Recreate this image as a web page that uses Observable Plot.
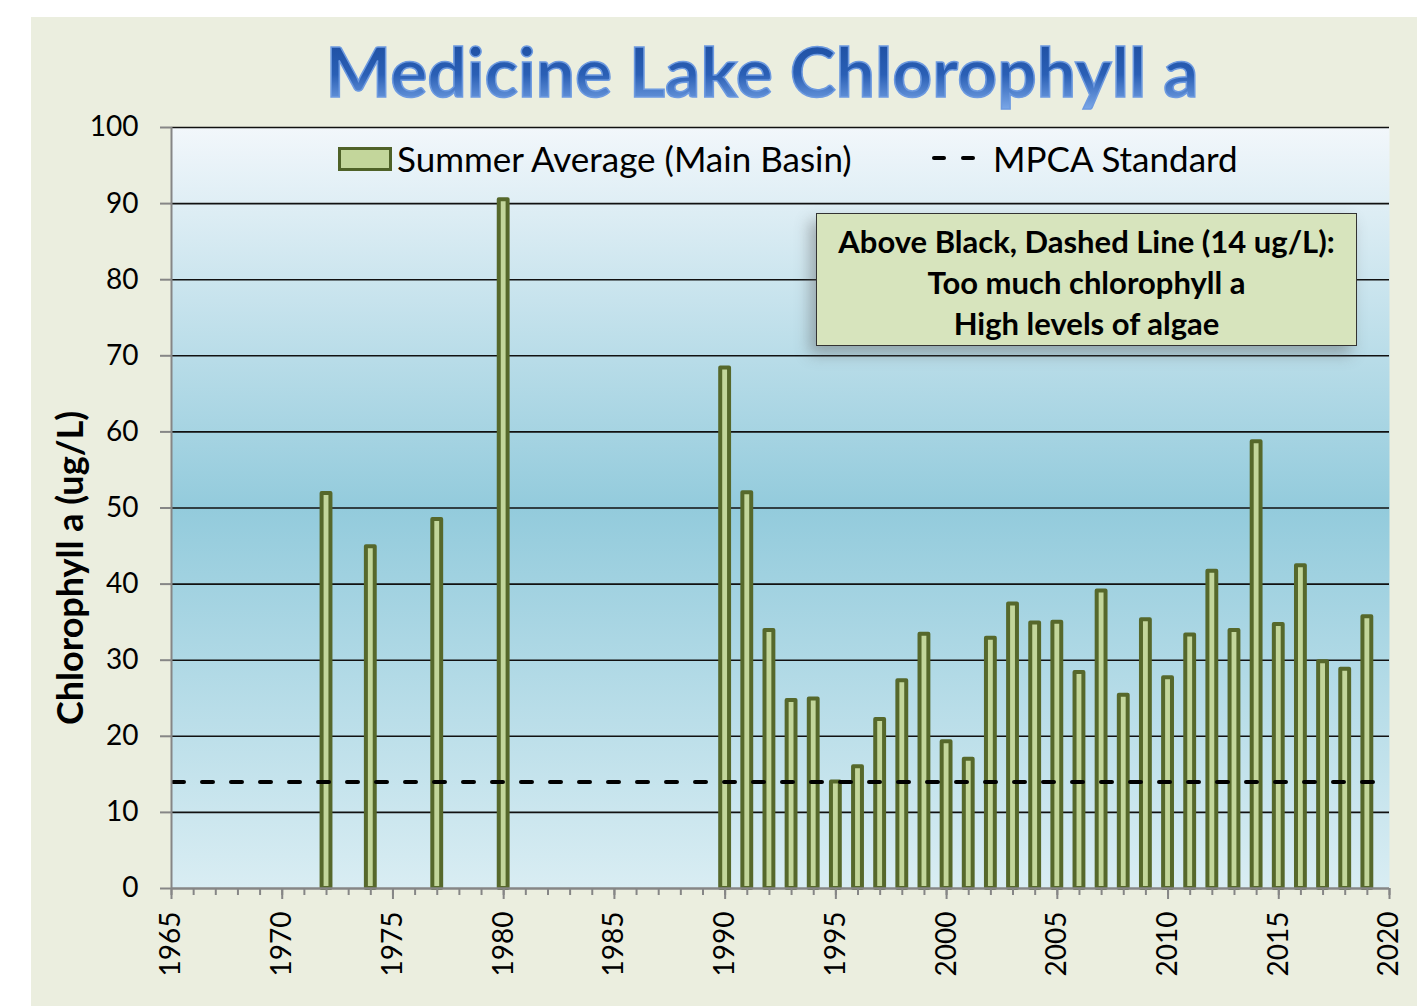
<!DOCTYPE html>
<html>
<head>
<meta charset="utf-8">
<script src="https://cdn.jsdelivr.net/npm/d3@7"></script>
<script src="https://cdn.jsdelivr.net/npm/@observablehq/plot@0.6"></script>
<style>
  html, body { margin: 0; padding: 0; background: #ffffff; }
  #wrap { position: relative; width: 1417px; height: 1006px; overflow: hidden; font-family: Lato, "Open Sans", sans-serif; }
  #panel { position: absolute; left: 31px; top: 17px; width: 1386px; height: 989px; background: #ebeedf; }
  #chart { position: absolute; left: 0; top: 0; }
  #title { position: absolute; left: 0; top: 0; }
  .legend-swatch { position: absolute; left: 338px; top: 147px; width: 48px; height: 18px; background: #c3d69b; border: 3px solid #4f6228; }
  .legend-text { position: absolute; font-size: 35px; line-height: 35px; color: #000; white-space: nowrap; }
  .legend-dash { position: absolute; top: 156px; width: 14px; height: 4px; background: #000; border-radius: 2px; }
  #note { position: absolute; left: 816px; top: 213px; width: 541px; height: 133px; background: #d7e4bd; border: 1.5px solid #333;
          box-shadow: -6px 8px 14px rgba(90,90,90,0.45); text-align: center; font-weight: bold; font-size: 31px; line-height: 41px; color: #000; padding-top: 7px; box-sizing: border-box; white-space: nowrap; }
</style>
</head>
<body>
<div id="wrap">
  <div id="panel"></div>
  <div id="chart"></div>
  <svg id="title" width="1417" height="120">
    <defs>
      <linearGradient id="titleGrad" x1="0" y1="0" x2="0" y2="1">
        <stop offset="0" stop-color="#1a4a9c"/>
        <stop offset="0.55" stop-color="#2a5fb5"/>
        <stop offset="1" stop-color="#7fabea"/>
      </linearGradient>
    </defs>
    <text x="762" y="97" text-anchor="middle" font-family="Lato, sans-serif" font-weight="bold" font-size="68"
          textLength="873" lengthAdjust="spacingAndGlyphs" fill="url(#titleGrad)" stroke="#6d9ae0" stroke-width="1.5">Medicine Lake Chlorophyll a</text>
  </svg>
  <div class="legend-swatch"></div>
  <div class="legend-text" style="left:397px; top:141px;">Summer Average (Main Basin)</div>
  <div class="legend-dash" style="left:932px;"></div>
  <div class="legend-dash" style="left:961px;"></div>
  <div class="legend-text" style="left:993px; top:141px;">MPCA Standard</div>
  <div id="note">Above Black, Dashed Line (14 ug/L):<br>Too much chlorophyll a<br>High levels of algae</div>
</div>
<script>
// ---- Data ----
const years = [1972, 1974, 1977, 1980, 1990, 1991, 1992, 1993, 1994, 1995, 1996, 1997, 1998, 1999,
               2000, 2001, 2002, 2003, 2004, 2005, 2006, 2007, 2008, 2009, 2010, 2011, 2012, 2013,
               2014, 2015, 2016, 2017, 2018, 2019];
const chlorophyll = [51.9, 44.9, 48.5, 90.5, 68.4, 52.0, 33.9, 24.7, 24.9, 14.0, 16.0, 22.2, 27.3, 33.4,
                     19.3, 17.0, 32.9, 37.4, 34.9, 35.0, 28.4, 39.1, 25.4, 35.3, 27.7, 33.3, 41.7, 33.9,
                     58.7, 34.7, 42.4, 29.8, 28.8, 35.7];
const mpcaStandard = [14];
const xMajorTicks = [1965, 1970, 1975, 1980, 1985, 1990, 1995, 2000, 2005, 2010, 2015, 2020];
const yTicks = [0, 10, 20, 30, 40, 50, 60, 70, 80, 90, 100];
const yLabel = "Chlorophyll a (ug/L)";

const data = years.map((year, i) => ({year, value: chlorophyll[i]}));
const xMinorTicks = d3.range(1965, 2021);
const halfBar = 0.2;

const axisGray = "#868686";
const chart = Plot.plot({
  width: 1417,
  height: 1006,
  marginLeft: 171,
  marginRight: 28,
  marginTop: 127,
  marginBottom: 118,
  x: {domain: [1965, 2020]},
  y: {domain: [0, 100]},
  style: {background: "transparent", fontFamily: "Lato, 'Open Sans', sans-serif", color: "#000", overflow: "visible"},
  marks: [
    Plot.frame({fill: "url(#plotbg)", stroke: null}),
    Plot.ruleY(yTicks.filter(d => d > 0), {stroke: "#111", strokeWidth: 1.6}),
    Plot.rectY(data, {
      x1: d => d.year - halfBar,
      x2: d => d.year + halfBar,
      y: "value",
      fill: "#c3d69b",
      stroke: "#56682b",
      strokeWidth: 4,
      strokeLinejoin: "round"
    }),
    Plot.ruleY(mpcaStandard, {stroke: "#000", strokeWidth: 4, strokeDasharray: "11,18", strokeLinecap: "round", strokeDashoffset: -2}),
    Plot.ruleX([1965], {stroke: axisGray, strokeWidth: 2}),
    Plot.ruleY([0], {stroke: axisGray, strokeWidth: 2.5}),
    Plot.axisY({ticks: yTicks, tickSize: 11, tickPadding: 22, fontSize: 28, stroke: axisGray, strokeWidth: 2, fill: "#000", label: null, tickFormat: d => String(d)}),
    Plot.axisX({ticks: xMinorTicks, tickSize: 7, tickFormat: () => "", stroke: axisGray, strokeWidth: 2, label: null}),
    Plot.axisX({ticks: xMajorTicks, tickSize: 11, tickPadding: 12, tickRotate: -90, fontSize: 28, stroke: axisGray, strokeWidth: 2, fill: "#000", label: null, tickFormat: d => String(d)}),
    Plot.text([yLabel], {frameAnchor: "left", textAnchor: "middle", rotate: -90, dx: -100, dy: 60, fontSize: 36, fontWeight: "bold", fill: "#000"})
  ]
});

// gradient definition for the plot background
const svg = d3.select(chart);
const defs = svg.insert("defs", ":first-child");
const g = defs.append("linearGradient").attr("id", "plotbg").attr("x1", 0).attr("y1", 0).attr("x2", 0).attr("y2", 1);
g.append("stop").attr("offset", 0).attr("stop-color", "#f2f7fb");
g.append("stop").attr("offset", 0.5).attr("stop-color", "#93cbdc");
g.append("stop").attr("offset", 1).attr("stop-color", "#d9edf3");

document.getElementById("chart").appendChild(chart);
</script>
</body>
</html>
